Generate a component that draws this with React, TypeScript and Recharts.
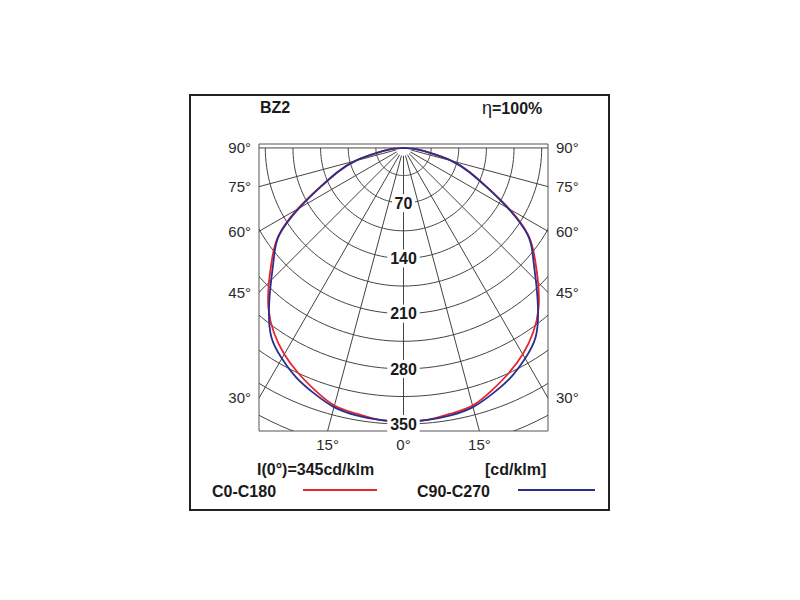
import { ComposedChart, Line, XAxis, YAxis, ReferenceDot, ReferenceArea } from "recharts";

// luminous intensity, cd/klm, read every 5 degrees from nadir (mirrored both sides)
const gammaDeg = [0, 5, 10, 15, 20, 25, 30, 35, 40, 45, 50, 55, 60, 65, 70, 75, 80, 85, 90];
const c0c180 = [347, 346, 342, 338, 327, 315, 302, 286, 266, 241, 217, 193, 155, 116, 89, 63, 31, 14, 0];
const c90c270 = [347, 346, 344, 340, 331, 321, 308, 292, 265, 237, 214, 192, 153, 115, 88, 63, 31, 14, 0];

const arcRadii = [35, 70, 105, 140, 175, 210, 245, 280, 315, 350, 385, 420];
const arcLabels = [70, 140, 210, 280, 350];
const spokeAngles = [-90, -75, -60, -45, -30, -15, 0, 15, 30, 45, 60, 75, 90];
const sideTicks = [90, 75, 60, 45, 30];
const bottomTicks = [-15, 0, 15];

const X_MIN = -183;
const X_MAX = 183;
const Y_MIN = -358.7;
const Y_MAX = 5;

const RED = "#e5262f";
const BLUE = "#2b2f8c";
const GRID = "#444";
const FONT = "'Liberation Sans', Arial, sans-serif";

const rad = (d: number) => (d * Math.PI) / 180;
const polar = (g: number, r: number) => ({ x: r * Math.sin(rad(g)), y: -r * Math.cos(rad(g)) });

const curve = (values: number[]) => {
  const pts = [];
  for (let i = gammaDeg.length - 1; i > 0; i--) pts.push(polar(-gammaDeg[i], values[i]));
  for (let i = 0; i < gammaDeg.length; i++) pts.push(polar(gammaDeg[i], values[i]));
  return pts;
};

const arcPoints = (r: number) => {
  const pts = [];
  for (let t = -90; t <= 90; t += 2) pts.push(polar(t, r));
  return pts;
};

const sideTickY = sideTicks.map((g) => (g === 90 ? 0 : -X_MAX / Math.tan(rad(g))));
const bottomTickX = bottomTicks.map((g) => -Y_MIN * Math.tan(rad(g)));

const sideLabel = (v: number) => {
  const i = sideTickY.findIndex((y) => Math.abs(y - v) < 0.5);
  return i >= 0 ? `${sideTicks[i]}°` : "";
};
const bottomLabel = (v: number) => {
  const i = bottomTickX.findIndex((x) => Math.abs(x - v) < 0.5);
  return i >= 0 ? `${Math.abs(bottomTicks[i])}°` : "";
};

const ArcLabel = (props: any) => {
  const { cx, cy, value } = props;
  const w = String(value).length * 9.5 + 4;
  return (
    <g>
      <rect x={cx - w / 2} y={cy - 9} width={w} height={18} fill="#fff" />
      <text x={cx} y={cy} dy="0.36em" textAnchor="middle" fontSize={16} fontWeight="bold" fontFamily={FONT} fill="#1a1a1a">
        {value}
      </text>
    </g>
  );
};

const tickStyle = { fill: "#2a2a2a", fontSize: 15, fontFamily: FONT };

export default function App() {
  const redPts = curve(c0c180);
  const bluePts = curve(c90c270);

  return (
    <div style={{ position: "absolute", left: 0, top: 0, width: 800, height: 600, background: "#fff", fontFamily: FONT, color: "#1a1a1a" }}>
      <div style={{ position: "absolute", left: 189, top: 94, width: 421, height: 417, border: "2px solid #222", boxSizing: "border-box" }} />
      <div style={{ position: "absolute", left: 260, top: 99, fontSize: 16, fontWeight: "bold", lineHeight: "18px" }}>BZ2</div>
      <div style={{ position: "absolute", left: 482, top: 99, fontSize: 16, fontWeight: "bold", lineHeight: "18px" }}>
        <span style={{ fontWeight: "normal", fontSize: 18 }}>η</span>=100%
      </div>

      <div style={{ position: "absolute", left: 0, top: 0 }}>
        <ComposedChart width={800} height={600} margin={{ top: 144, right: 192, bottom: 139, left: 199 }}>
          <XAxis
            type="number"
            dataKey="x"
            domain={[X_MIN, X_MAX]}
            allowDataOverflow
            ticks={bottomTickX}
            interval={0}
            tickFormatter={bottomLabel}
            tickLine={false}
            axisLine={false}
            height={30}
            tick={tickStyle}
          />
          <YAxis
            type="number"
            dataKey="y"
            domain={[Y_MIN, Y_MAX]}
            allowDataOverflow
            ticks={sideTickY}
            interval={0}
            tickFormatter={sideLabel}
            tickLine={false}
            axisLine={false}
            width={60}
            tick={tickStyle}
          />
          <YAxis
            yAxisId="r"
            orientation="right"
            type="number"
            domain={[Y_MIN, Y_MAX]}
            allowDataOverflow
            ticks={sideTickY}
            interval={0}
            tickFormatter={sideLabel}
            tickLine={false}
            axisLine={false}
            width={60}
            tick={{ ...tickStyle, textAnchor: "start" }}
          />

          {arcRadii.map((r) => (
            <Line
              key={`arc${r}`}
              data={arcPoints(r)}
              dataKey="y"
              type="linear"
              stroke={GRID}
              strokeWidth={1}
              dot={false}
              activeDot={false}
              isAnimationActive={false}
            />
          ))}
          {spokeAngles.map((g) => (
            <Line
              key={`spoke${g}`}
              data={[polar(g, 10), polar(g, 600)]}
              dataKey="y"
              type="linear"
              stroke={GRID}
              strokeWidth={1}
              dot={false}
              activeDot={false}
              isAnimationActive={false}
            />
          ))}
          <ReferenceArea x1={X_MIN} x2={X_MAX} y1={Y_MIN} y2={Y_MAX} fill="none" stroke="#555" strokeWidth={1} />

          <Line data={redPts} dataKey="y" name="C0-C180" type="natural" stroke={RED} strokeWidth={1.8} dot={false} activeDot={false} isAnimationActive={false} />
          <Line data={bluePts} dataKey="y" name="C90-C270" type="natural" stroke={BLUE} strokeWidth={1.8} dot={false} activeDot={false} isAnimationActive={false} />

          {arcLabels.map((v) => (
            <ReferenceDot key={`lab${v}`} x={0} y={-v} r={1} shape={(p: any) => <ArcLabel {...p} value={v} />} />
          ))}
        </ComposedChart>
      </div>

      <div style={{ position: "absolute", left: 257, top: 461, fontSize: 16, fontWeight: "bold", lineHeight: "18px" }}>I(0°)=345cd/klm</div>
      <div style={{ position: "absolute", left: 485, top: 461, fontSize: 16, fontWeight: "bold", lineHeight: "18px" }}>[cd/klm]</div>
      <div style={{ position: "absolute", left: 212, top: 483, fontSize: 16, fontWeight: "bold", lineHeight: "18px" }}>C0-C180</div>
      <div style={{ position: "absolute", left: 303, top: 489, width: 74, height: 2, background: RED }} />
      <div style={{ position: "absolute", left: 417, top: 483, fontSize: 16, fontWeight: "bold", lineHeight: "18px" }}>C90-C270</div>
      <div style={{ position: "absolute", left: 518, top: 489, width: 77, height: 2, background: BLUE }} />
    </div>
  );
}
